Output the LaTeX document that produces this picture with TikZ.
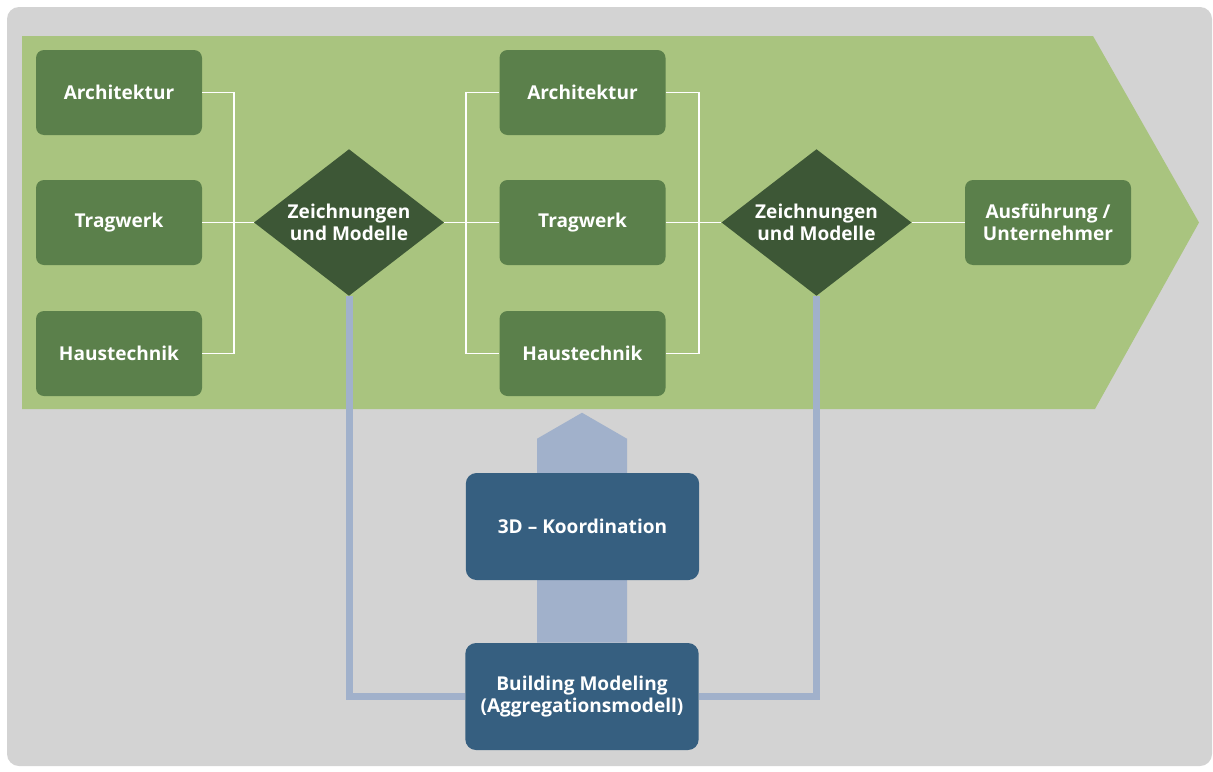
\documentclass[tikz,border=0pt]{standalone}
\usepackage{fontspec}
\setmainfont{Open Sans}
\usepackage{xcolor}
\usepackage{tikz}
\usetikzlibrary{shapes.geometric,positioning,calc}

\definecolor{bggrey}{HTML}{D3D3D3}
\definecolor{bandgreen}{HTML}{A9C47F}
\definecolor{boxgreen}{HTML}{5B804B}
\definecolor{diagreen}{HTML}{3D5736}
\definecolor{boxblue}{HTML}{365F80}
\definecolor{linkblue}{HTML}{A1B1CB}

\begin{document}
\begin{tikzpicture}[x=0.75pt, y=-0.75pt,
  lbl/.style={text=white, font=\fontsize{14.3}{16.5}\selectfont\bfseries, align=center},
  stepbox/.style={lbl, fill=boxgreen, rounded corners=6pt, minimum width=124.5pt, minimum height=63.75pt},
  decision/.style={lbl, diamond, fill=diagreen, aspect=1.3, inner sep=0pt, minimum width=142.5pt, minimum height=110pt},
  modelbox/.style={lbl, fill=boxblue, rounded corners=8pt, minimum width=175pt, minimum height=80.25pt},
  whitelink/.style={draw=white, line width=1.4pt},
  bluelink/.style={draw=linkblue, line width=5.25pt}]
  \useasboundingbox (0,0) rectangle (1213,771);
  \fill[white] (0,0) rectangle (1213,771);
  \fill[bggrey, rounded corners=9pt] (7,7) rectangle (1212,766);

  % process band
  \fill[bandgreen] (22,36) -- (1093,36) -- (1199,222.5) -- (1095,409) -- (22,409) -- cycle;

  % first planning round
  \node[stepbox] (arch1) at (119,92.5) {Architektur};
  \node[stepbox] (trag1) at (119,222.5) {Tragwerk};
  \node[stepbox] (haus1) at (119,353.5) {Haustechnik};
  \node[decision] (dia1) at (349,222.5) {Zeichnungen\\und Modelle};

  % second planning round
  \node[stepbox] (arch2) at (582.5,92.5) {Architektur};
  \node[stepbox] (trag2) at (582.5,222.5) {Tragwerk};
  \node[stepbox] (haus2) at (582.5,353.5) {Haustechnik};
  \node[decision] (dia2) at (816.5,222.5) {Zeichnungen\\und Modelle};

  \node[stepbox] (exec) at (1048,222.5) {Ausführung /\\Unternehmer};

  % white junctions
  \coordinate (j1) at (234,222.5);
  \coordinate (j2) at (466,222.5);
  \coordinate (j3) at (699,222.5);
  \draw[whitelink] (arch1.east) -| (j1) |- (haus1.east);
  \draw[whitelink] (trag1) -- (dia1);
  \draw[whitelink] (arch2.west) -| (j2) |- (haus2.west);
  \draw[whitelink] (dia1) -- (trag2);
  \draw[whitelink] (arch2.east) -| (j3) |- (haus2.east);
  \draw[whitelink] (trag2) -- (dia2);
  \draw[whitelink] (dia2) -- (exec);

  % model coordination
  \node[modelbox] (bm) at (582,696.5) {Building Modeling\\(Aggregationsmodell)};
  \fill[linkblue] ($(bm.north)+(-45,0)$) -- ++(0,-204) -- ++(45,-26) -- ++(45,26) -- ++(0,204) -- cycle;
  \node[modelbox] (coord) at (582.5,526.5) {3D -- Koordination};
  \draw[bluelink] (dia1.south) |- (bm.west);
  \draw[bluelink] (dia2.south) |- (bm.east);
\end{tikzpicture}
\end{document}
